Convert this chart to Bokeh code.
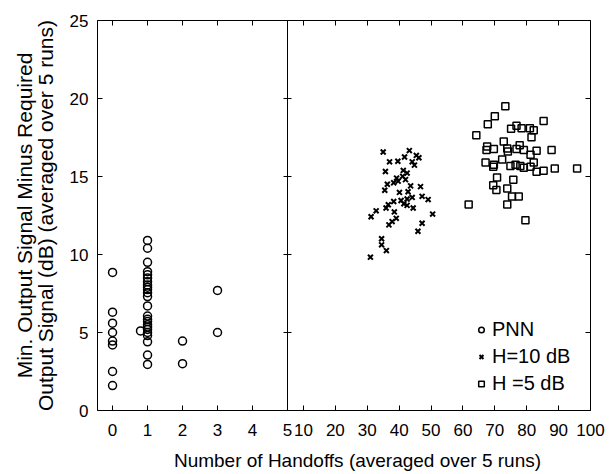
from bokeh.plotting import figure
from bokeh.layouts import column, row
from bokeh.models import Range1d, FixedTicker, LinearAxis, Label, Legend, LegendItem
from bokeh.embed import file_html
from bokeh.resources import INLINE
from bokeh.core.validation import silence
from bokeh.core.validation.warnings import MISSING_RENDERERS

silence(MISSING_RENDERERS, True)

FONT = "Liberation Sans"

# ---------------- data ----------------
pnn_x = [0, 0, 0, 0, 0, 0, 0, 0,
         1, 1, 1, 1, 1, 1, 1, 1, 1, 1, 1, 1, 1, 1, 1, 1, 1, 1, 1, 1, 1, 1, 1, 1,
         0.8, 2, 2, 3, 3]
pnn_y = [8.85, 6.3, 5.6, 5.0, 4.45, 4.2, 2.5, 1.6,
         10.9, 10.4, 9.5, 8.9, 8.7, 8.5, 8.25, 8.05, 7.9, 7.75, 7.55, 7.3,
         6.7, 6.05, 5.85, 5.7, 5.5, 5.35, 5.2, 5.0, 4.8, 4.4, 3.55, 2.95,
         5.1, 4.45, 3.0, 7.7, 5.0]

h10_x = [35.0, 43.2, 45.4, 46.2, 44.1, 44.8, 37.0, 39.6, 41.7, 35.7, 41.3, 42.5,
         41.1, 39.2, 39.7, 38.3, 36.3, 42.0, 43.6, 46.7, 35.5, 40.1, 42.8, 47.2,
         49.1, 44.1, 42.5, 40.6, 38.3, 36.6, 35.9, 41.5, 42.5, 44.4, 32.8, 31.2,
         38.5, 39.1, 37.8, 36.8, 50.5, 47.2, 45.9, 34.5, 34.5, 36.0, 31.0]
h10_y = [16.57, 16.66, 16.35, 16.2, 15.94, 15.73, 15.94, 15.98, 16.25, 15.32, 15.39, 15.22,
         15.01, 14.9, 14.7, 14.6, 14.5, 14.8, 14.4, 14.35, 14.12, 13.98, 14.02, 13.73,
         13.52, 13.66, 13.56, 13.46, 13.4, 13.19, 12.98, 13.25, 13.15, 12.98, 12.8, 12.42,
         12.73, 12.32, 12.11, 11.9, 12.59, 12.0, 11.49, 11.01, 10.62, 10.25, 9.83]

h5_x = [73.3, 70.0, 67.8, 85.3, 64.2, 75.1, 76.8, 78.4, 81.0, 82.2, 81.5, 72.8,
        67.6, 67.4, 69.7, 73.9, 74.1, 76.8, 77.8, 79.1, 81.2, 83.1, 87.8, 72.3,
        67.1, 69.7, 69.5, 74.9, 76.5, 78.0, 79.1, 81.2, 82.2, 83.1, 85.3, 88.8,
        95.8, 70.7, 75.8, 69.5, 70.5, 73.9, 75.4, 77.5, 61.8, 73.9, 79.6]
h5_y = [19.51, 18.87, 18.35, 18.56, 17.65, 18.06, 18.25, 18.1, 18.1, 17.96, 17.52, 17.24,
        16.93, 16.7, 16.76, 16.8, 16.61, 16.76, 17.0, 16.7, 16.39, 16.65, 16.7, 16.09,
        15.89, 15.76, 15.62, 15.68, 15.76, 15.68, 15.56, 15.62, 15.89, 15.31, 15.37, 15.52,
        15.52, 14.94, 14.79, 14.44, 14.13, 14.23, 13.71, 13.71, 13.2, 13.2, 12.2]

left_ticks = [0, 1, 2, 3, 4, 5]
right_ticks = [10, 20, 30, 40, 50, 60, 70, 80, 90, 100]
y_ticks = [0, 5, 10, 15, 20, 25]
legend_labels = ["PNN", "H=10 dB", "H =5 dB"]
x_label = "Number of Handoffs (averaged over 5 runs)"
y_label = "Min. Output Signal Minus Required\nOutput Signal (dB) (averaged over 5 runs)"


def make_axis(ticks, labels, tick_in=5, **kw):
    ax = LinearAxis(ticker=FixedTicker(ticks=ticks, minor_ticks=[]),
                    major_tick_in=tick_in, major_tick_out=0,
                    minor_tick_in=0, minor_tick_out=0,
                    axis_line_color=None, major_tick_line_color="black",
                    major_tick_line_width=1, **kw)
    if labels:
        ax.major_label_text_font = FONT
        ax.major_label_text_font_size = "17px"
        ax.major_label_text_color = "black"
    else:
        ax.major_label_text_font_size = "0px"
        ax.major_label_text_color = None
        ax.major_label_standoff = 0
    return ax


def base_fig(outline="black", **kw):
    p = figure(toolbar_location=None, output_backend="svg",
               x_axis_location=None, y_axis_location=None,
               outline_line_color=outline, outline_line_width=1, **kw)
    p.xgrid.visible = False
    p.ygrid.visible = False
    return p


# ---------------- left panel (0..5) ----------------
pl = base_fig(width=297, height=445, x_range=Range1d(-0.43, 5), y_range=Range1d(0, 25),
              min_border_left=97, min_border_right=10, min_border_top=20, min_border_bottom=35,
              background_fill_color="white", border_fill_color="white")

xb = make_axis(left_ticks, True)
xb.major_label_standoff = 13
pl.add_layout(xb, "below")
pl.add_layout(make_axis(left_ticks, False), "above")

yl = make_axis(y_ticks, True)
yl.major_label_standoff = 9
yl.axis_label = y_label
yl.axis_label_text_font = FONT
yl.axis_label_text_font_size = "21px"
yl.axis_label_text_font_style = "normal"
yl.axis_label_text_color = "black"
yl.axis_label_text_line_height = 0.9
yl.axis_label_standoff = 10
pl.add_layout(yl, "left")
pl.add_layout(make_axis(y_ticks, False, tick_in=4), "right")

circle_style = dict(marker="circle", size=8, fill_color=None, line_color="black", line_width=1.5)
pl.scatter(pnn_x, pnn_y, **circle_style)

# ---------------- right panel (5..100) ----------------
pr = base_fig(width=328, height=445, x_range=Range1d(5, 100), y_range=Range1d(0, 25),
              margin=(0, 0, 0, -10),
              min_border_left=0, min_border_right=25, min_border_top=20, min_border_bottom=35,
              background_fill_alpha=0, border_fill_alpha=0)

xr = make_axis(right_ticks, True)
xr.major_label_standoff = 13
pr.add_layout(xr, "below")
pr.add_layout(make_axis(right_ticks, False), "above")
pr.add_layout(make_axis(y_ticks, False, tick_in=4), "left")
pr.add_layout(make_axis(y_ticks, False), "right")

r10 = pr.scatter(h10_x, h10_y, marker="x", size=7, line_color="black", line_width=2)
r5 = pr.scatter(h5_x, h5_y, marker="square", size=7, fill_color=None,
                line_color="black", line_width=1.5)
# PNN series again on the right panel's scale: it falls outside 5..100 and is
# clipped away, it only supplies the legend entry for the PNN symbol.
r_pnn_proxy = pr.scatter(pnn_x, pnn_y, **circle_style)

legend = Legend(items=[LegendItem(label=legend_labels[0], renderers=[r_pnn_proxy]),
                       LegendItem(label=legend_labels[1], renderers=[r10]),
                       LegendItem(label=legend_labels[2], renderers=[r5])],
                location=(187, 15), border_line_color=None, background_fill_alpha=0,
                padding=0, margin=0, spacing=4, glyph_width=14, glyph_height=23,
                label_height=23, label_standoff=4, label_text_font=FONT,
                label_text_font_size="20px", label_text_color="black")
pr.add_layout(legend)

# ---------------- shared x label ----------------
plab = base_fig(outline=None, width=615, height=29, x_range=Range1d(0, 1), y_range=Range1d(0, 1),
                min_border=0)
plab.add_layout(Label(x=357, y=14, x_units="screen", y_units="screen", text=x_label,
                      text_align="center", text_baseline="middle", text_font=FONT,
                      text_font_size="19px", text_color="black"))

layout = column(row(pl, pr), plab)
open("out.html", "w").write(file_html(layout, INLINE))
